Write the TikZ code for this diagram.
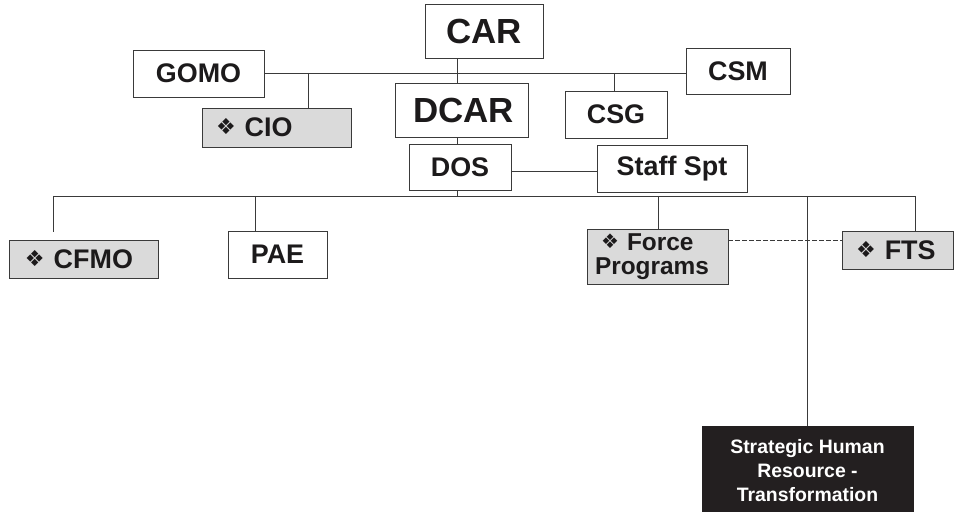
\documentclass[tikz,border=0pt]{standalone}
\usepackage{graphicx}
\usepackage{fontspec}
\setmainfont{Liberation Sans}
\newfontfamily\symfont{DejaVu Sans}
\newcommand{\diamsym}{\raisebox{0.08em}{\scalebox{0.82}{\symfont\char"2756}}}
\definecolor{ink}{HTML}{1C1A1B}
\definecolor{boxline}{HTML}{3A3A3A}
\definecolor{shade}{HTML}{DADADA}
\definecolor{darkbox}{HTML}{231F20}
\begin{document}
\begin{tikzpicture}[x=1bp,y=-1bp,
  box/.style={draw=boxline, line width=0.9bp, fill=white, inner sep=0pt,
    font=\bfseries, text=ink},
  shaded/.style={fill=shade},
  leftbox/.style={inner xsep=#1, align=left},
  big/.style={font=\bfseries\fontsize{35}{35}\selectfont},
  mid/.style={font=\bfseries\fontsize{27}{27}\selectfont},
  link/.style={draw=boxline, line width=0.9bp},
  dashlink/.style={link, dash pattern=on 4.5bp off 2.5bp}]
\useasboundingbox (0,0) rectangle (955,512);

% command group
\node[box, big, minimum width=118bp, minimum height=54bp] (car) at (484,31) {CAR};
\node[box, mid, minimum width=131bp, minimum height=47bp] (gomo) at (198.5,73.5) {GOMO};
\node[box, mid, minimum width=104bp, minimum height=46bp] (csm) at (738,71) {CSM};
\node[box, mid, shaded, leftbox=14bp, minimum width=149bp, text width=121bp,
  minimum height=39bp] (cio) at (276.5,127.5) {\diamsym\ CIO};
\node[box, big, minimum width=133bp, minimum height=54bp] (dcar) at (461.5,110) {\hspace{4bp}DCAR};
\node[box, mid, minimum width=102bp, minimum height=47bp] (csg) at (616,114.5) {CSG};
\node[box, mid, minimum width=102bp, minimum height=46bp] (dos) at (460,167) {DOS};
\node[box, mid, minimum width=150bp, minimum height=47bp] (staff) at (672,168.5) {Staff Spt\hspace{8bp}};

% directorates
\node[box, mid, shaded, leftbox=16bp, minimum width=149bp, text width=117bp,
  minimum height=38bp] (cfmo) at (83.5,259) {\diamsym\ CFMO};
\node[box, mid, minimum width=99bp, minimum height=47bp] (pae) at (277.5,254.5) {PAE};
\node[box, shaded, leftbox=8bp, minimum width=141bp, text width=125bp,
  minimum height=55bp, font=\bfseries\fontsize{24.5}{24}\selectfont]
  (fp) at (657.5,256.5) {\hspace{6bp}\diamsym\ Force\\Programs};
\node[box, mid, shaded, leftbox=14bp, minimum width=111bp, text width=83bp,
  minimum height=38bp] (fts) at (897.5,250) {\diamsym\ FTS};
\node[box, draw=darkbox, fill=darkbox, text=white, anchor=north, align=center,
  minimum width=211bp, inner ysep=13bp, font=\bfseries\fontsize{19.5}{24}\selectfont]
  (shr) at (807.5,426) {Strategic Human\\Resource -\\Transformation};

% connector positions
\coordinate (spine) at (457,0);
\coordinate (topbus) at (0,73);
\coordinate (cioTap) at (308,73);
\coordinate (csgTap) at (614,73);
\coordinate (dosStaff) at (0,171);
\coordinate (busL) at (53,196);
\coordinate (busR) at (915,196);
\coordinate (cfmoEnd) at (53,232);
\coordinate (paeTap) at (255,196);
\coordinate (fpTap) at (658,196);
\coordinate (shrTap) at (807,196);
\coordinate (dashY) at (0,240);

% top bus and chain of command
\draw[link] (gomo.east |- topbus) -- (csm.west |- topbus);
\draw[link] (car.south -| spine) -- (dcar.north -| spine);
\draw[link] (dcar.south -| spine) -- (dos.north -| spine);
\draw[link] (cioTap) -- (cioTap |- cio.north);
\draw[link] (csgTap) -- (csgTap |- csg.north);
\draw[link] (dos.east |- dosStaff) -- (staff.west |- dosStaff);

% lower bus
\draw[link] (dos.south -| spine) -- (spine |- busL);
\draw[link] (busL) -- (busR);
\draw[link] (busL) -- (cfmoEnd);
\draw[link] (paeTap) -- (paeTap |- pae.north);
\draw[link] (fpTap) -- (fpTap |- fp.north);
\draw[link] (shrTap) -- (shrTap |- shr.north);
\draw[link] (busR) -- (busR |- fts.north);
\draw[dashlink] (fp.east |- dashY) -- (fts.west |- dashY);
\end{tikzpicture}
\end{document}
